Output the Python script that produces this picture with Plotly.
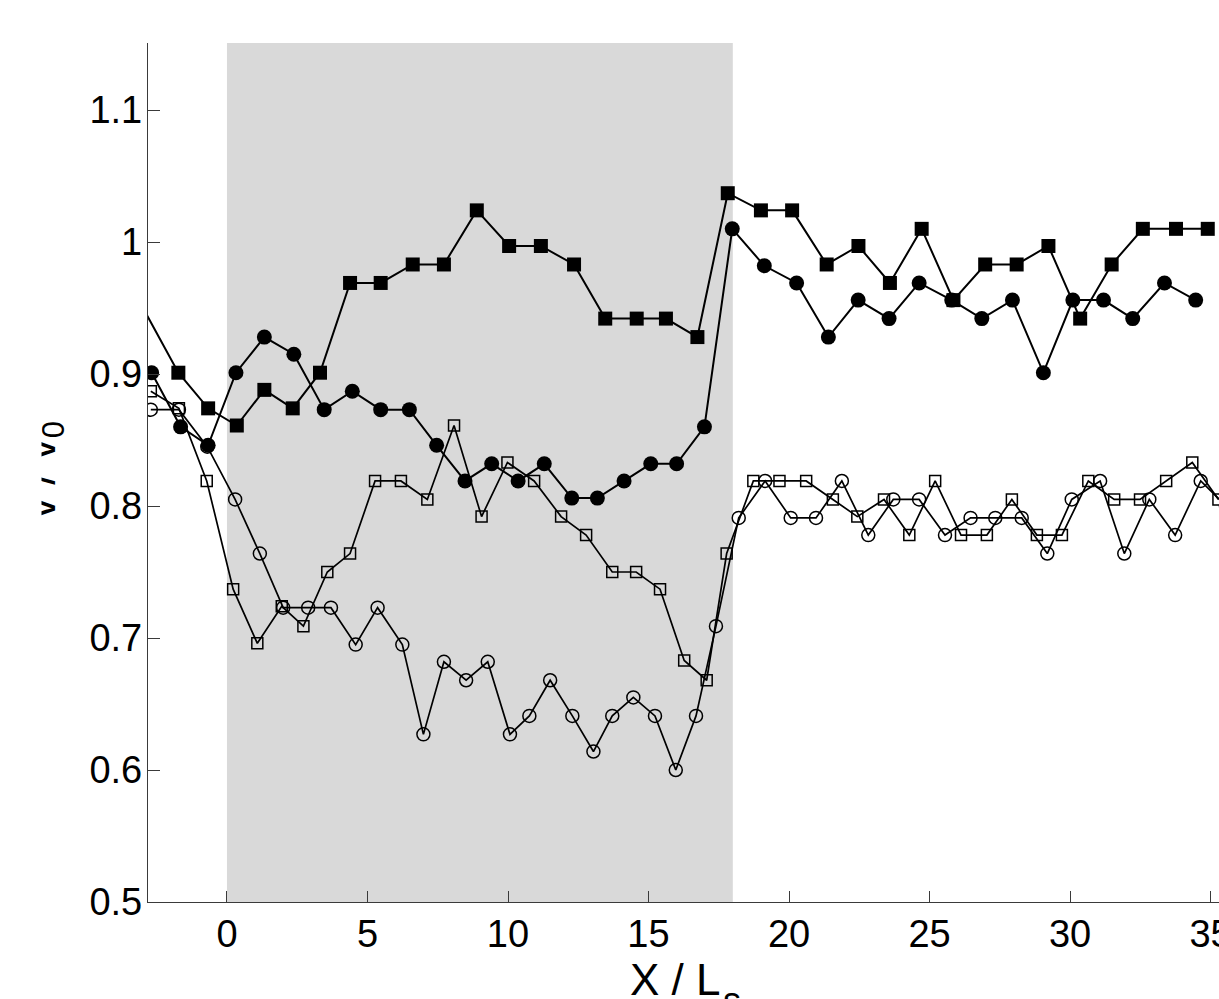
import plotly.graph_objects as go

# ---------------- data ----------------
fs_x = [-3.91, -1.73, -0.67, 0.35, 1.33, 2.34, 3.31, 4.38, 5.47, 6.61, 7.72, 8.89, 10.04,
        11.17, 12.35, 13.46, 14.58, 15.62, 16.74, 17.82, 19.00, 20.11, 21.34, 22.47,
        23.59, 24.72, 25.85, 26.98, 28.10, 29.23, 30.36, 31.48, 32.59, 33.77, 34.90]
fs_y = [0.986, 0.901, 0.874, 0.861, 0.888, 0.874, 0.901, 0.969, 0.969, 0.983, 0.983, 1.024,
        0.997, 0.997, 0.983, 0.942, 0.942, 0.942, 0.928, 1.037, 1.024, 1.024, 0.983, 0.997,
        0.969, 1.010, 0.956, 0.983, 0.983, 0.997, 0.942, 0.983, 1.010, 1.010, 1.010]

fc_x = [-2.68, -1.65, -0.67, 0.32, 1.33, 2.38, 3.46, 4.46, 5.47, 6.49, 7.46, 8.47, 9.42,
        10.36, 11.29, 12.27, 13.18, 14.13, 15.08, 16.00, 16.99, 17.98, 19.12, 20.27, 21.40,
        22.46, 23.56, 24.63, 25.79, 26.86, 27.95, 29.05, 30.10, 31.19, 32.23, 33.36, 34.47]
fc_y = [0.901, 0.860, 0.846, 0.901, 0.928, 0.915, 0.873, 0.887, 0.873, 0.873, 0.846, 0.819,
        0.832, 0.819, 0.832, 0.806, 0.806, 0.819, 0.832, 0.832, 0.860, 1.010, 0.982, 0.969,
        0.928, 0.956, 0.942, 0.969, 0.956, 0.942, 0.956, 0.901, 0.956, 0.956, 0.942, 0.969,
        0.956]

os_x = [-2.71, -1.71, -0.72, 0.22, 1.08, 1.95, 2.72, 3.57, 4.38, 5.27, 6.19, 7.13, 8.08,
        9.06, 9.98, 10.93, 11.89, 12.78, 13.71, 14.56, 15.41, 16.27, 17.07, 17.78, 18.73,
        19.66, 20.61, 21.56, 22.43, 23.38, 24.28, 25.20, 26.12, 27.04, 27.93, 28.82, 29.71,
        30.65, 31.57, 32.49, 33.42, 34.35, 35.28]
os_y = [0.887, 0.874, 0.819, 0.737, 0.696, 0.724, 0.709, 0.750, 0.764, 0.819, 0.819, 0.805,
        0.861, 0.792, 0.833, 0.819, 0.792, 0.778, 0.750, 0.750, 0.737, 0.683, 0.668, 0.764,
        0.819, 0.819, 0.819, 0.805, 0.792, 0.805, 0.778, 0.819, 0.778, 0.778, 0.805, 0.778,
        0.778, 0.819, 0.805, 0.805, 0.819, 0.833, 0.805]

oc_x = [-2.71, -1.71, -0.70, 0.29, 1.17, 2.00, 2.89, 3.70, 4.58, 5.36, 6.24, 6.99, 7.72,
        8.51, 9.28, 10.07, 10.76, 11.50, 12.29, 13.04, 13.71, 14.46, 15.23, 15.97, 16.69,
        17.40, 18.21, 19.15, 20.06, 20.96, 21.88, 22.82, 23.71, 24.63, 25.55, 26.46, 27.34,
        28.28, 29.19, 30.06, 31.07, 31.93, 32.82, 33.74, 34.65, 35.55]
oc_y = [0.873, 0.873, 0.845, 0.805, 0.764, 0.723, 0.723, 0.723, 0.695, 0.723, 0.695, 0.627,
        0.682, 0.668, 0.682, 0.627, 0.641, 0.668, 0.641, 0.614, 0.641, 0.655, 0.641, 0.600,
        0.641, 0.709, 0.791, 0.819, 0.791, 0.791, 0.819, 0.778, 0.805, 0.805, 0.778, 0.791,
        0.791, 0.791, 0.764, 0.805, 0.819, 0.764, 0.805, 0.778, 0.819, 0.800]

shade_x = [0, 18]
x_ticks = [0, 5, 10, 15, 20, 25, 30, 35]
y_ticks = [0.5, 0.6, 0.7, 0.8, 0.9, 1.0, 1.1]
y_ticktext = ["0.5", "0.6", "0.7", "0.8", "0.9", "1", "1.1"]

# ---------------- layout geometry ----------------
W, H = 1219, 999
L, R, T, B = 148, 0, 43, 97
FONT = "Liberation Sans, Arial, Helvetica, sans-serif"


def px_to_paper_x(px):
    return (px - L) / (W - L - R)


def px_to_paper_y(py):
    return (H - B - py) / (H - T - B)


fig = go.Figure()

fig.add_trace(go.Scatter(x=os_x, y=os_y, mode="lines+markers",
                         line=dict(color="black", width=1.7),
                         marker=dict(symbol="square-open", size=11, color="black",
                                     line=dict(width=1.5, color="black")),
                         showlegend=False))
fig.add_trace(go.Scatter(x=oc_x, y=oc_y, mode="lines+markers",
                         line=dict(color="black", width=1.7),
                         marker=dict(symbol="circle-open", size=13, color="black",
                                     line=dict(width=1.5, color="black")),
                         showlegend=False))
fig.add_trace(go.Scatter(x=fc_x, y=fc_y, mode="lines+markers",
                         line=dict(color="black", width=2),
                         marker=dict(symbol="circle", size=15, color="black"),
                         showlegend=False))
fig.add_trace(go.Scatter(x=fs_x, y=fs_y, mode="lines+markers",
                         line=dict(color="black", width=2),
                         marker=dict(symbol="square", size=14, color="black"),
                         showlegend=False))

fig.add_shape(type="rect", xref="x", yref="paper", x0=shade_x[0], x1=shade_x[1],
              y0=0, y1=1, fillcolor="#d9d9d9", line=dict(width=0), layer="below")

axis_common = dict(showgrid=False, zeroline=False, showline=True, linecolor="#3a3a3a",
                   linewidth=1.3, ticks="inside", tickcolor="#3a3a3a", tickwidth=1.3,
                   ticklabeloverflow="allow", automargin=False,
                   tickfont=dict(family=FONT, size=38, color="black"))

fig.update_xaxes(range=[-2.81, 35.30], tickvals=x_ticks, ticklen=11,
                 ticklabelstandoff=-2, **axis_common)
fig.update_yaxes(range=[0.5, 1.1508], tickvals=y_ticks, ticktext=y_ticktext, ticklen=12,
                 ticklabelstandoff=-3, **axis_common)

# x-axis title (cut by the bottom edge, as in the reference)
fig.add_annotation(text="X / L", xref="paper", yref="paper",
                   x=px_to_paper_x(628), y=px_to_paper_y(953), xanchor="left",
                   yanchor="top", showarrow=False,
                   font=dict(family=FONT, size=44, color="black"))
fig.add_annotation(text="s", xref="paper", yref="paper",
                   x=px_to_paper_x(721), y=px_to_paper_y(978), xanchor="left",
                   yanchor="top", showarrow=False,
                   font=dict(family=FONT, size=36, color="black"))
# y-axis title (cut by the left edge, as in the reference)
fig.add_annotation(text="v / v<sub>0</sub>", xref="paper", yref="paper",
                   x=px_to_paper_x(43), y=px_to_paper_y(470), xanchor="center",
                   yanchor="middle", textangle=-90, showarrow=False,
                   font=dict(family=FONT, size=44, color="black"))
fig.add_annotation(text=" ", xref="paper", yref="paper",
                   x=px_to_paper_x(-5), y=px_to_paper_y(470), xanchor="left",
                   yanchor="middle", width=45, height=300, bgcolor="white",
                   borderpad=0, showarrow=False, font=dict(size=10))

fig.update_layout(width=W, height=H, margin=dict(l=L, r=R, t=T, b=B, pad=0,
                                                 autoexpand=False),
                  paper_bgcolor="white", plot_bgcolor="white",
                  font=dict(family=FONT, color="black"))

fig.write_html("out.html", config={"displayModeBar": False},
               post_script="document.body.style.margin='0';"
                           "document.body.style.overflow='hidden';")
